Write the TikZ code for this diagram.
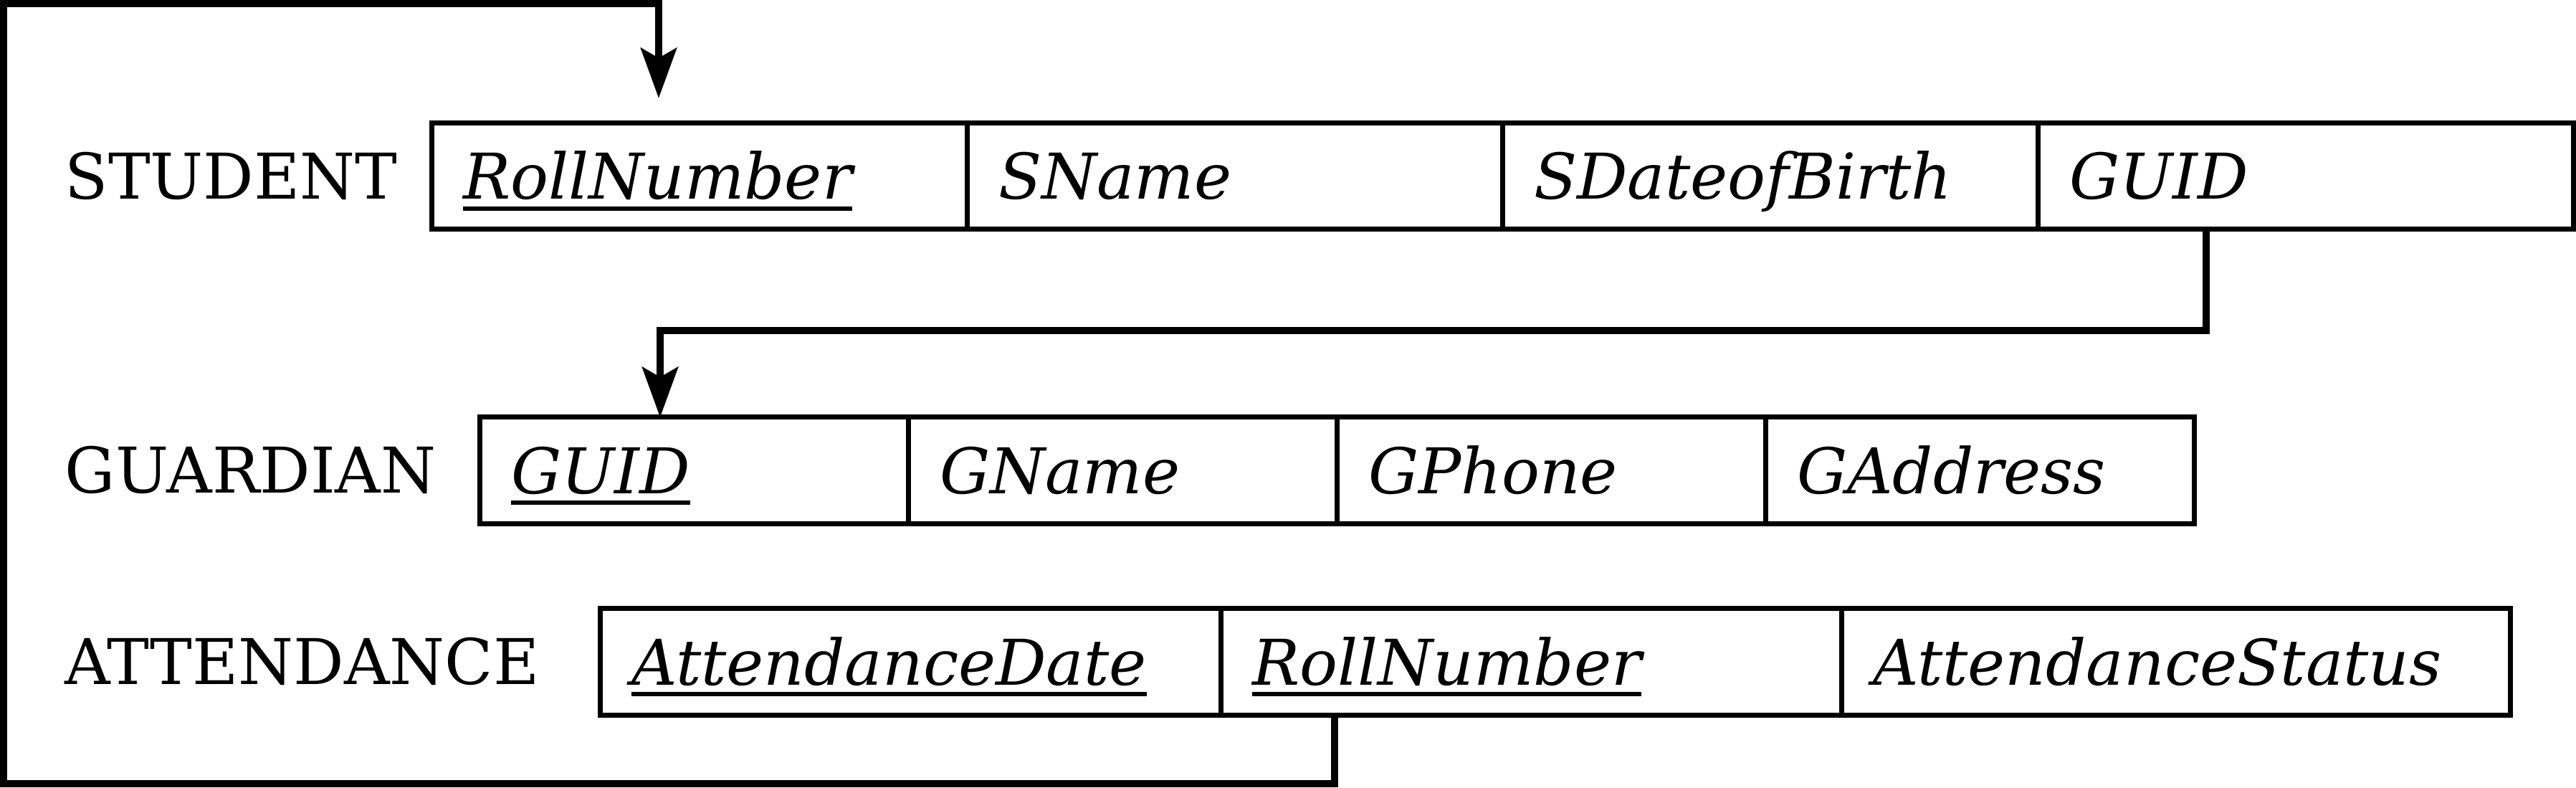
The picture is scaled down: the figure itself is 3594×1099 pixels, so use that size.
\documentclass[tikz,border=0pt]{standalone}
\usepackage{fontspec}
\setmainfont{DejaVu Serif}
\usetikzlibrary{positioning,calc,arrows.meta}

\newcommand{\pkey}[1]{\setbox0\hbox{#1}\rlap{\rule[-4pt]{\wd0}{1.5pt}}\box0}

\begin{document}
\begin{tikzpicture}[x=0.25pt, y=-0.25pt,
    relname/.style={anchor=west, inner sep=0pt, text height=16pt, text depth=0pt, font=\fontsize{22}{26}\selectfont},
    field/.style={draw, line width=1.75pt, outer sep=0pt, minimum height=37.1pt, inner xsep=11pt, inner ysep=0pt,
      text width=#1, align=left, text height=16pt, text depth=0pt, font=\fontsize{22}{26}\selectfont\itshape},
    fk/.style={line width=2.5pt, -{Stealth[length=17.5pt, width=12.5pt, inset=3.5pt]}}]
  \useasboundingbox (0,0) rectangle (3594,1099);

  % STUDENT
  \node[relname] (student) at (90,246) {STUDENT};
  \node[field=164.75pt, anchor=north west] (s1) at (602,171.5) {\pkey{RollNumber}};
  \node[field=164.75pt] (s2) [right=0pt of s1] {SName};
  \node[field=164.75pt] (s3) [right=0pt of s2] {SDateofBirth};
  \node[field=164.75pt] (s4) [right=0pt of s3] {GUID};

  % GUARDIAN
  \node[relname] (guardian) at (90,656) {GUARDIAN};
  \node[field=127.5pt, anchor=north west] (g1) at (669,582) {\pkey{GUID}};
  \node[field=127.5pt] (g2) [right=0pt of g1] {GName};
  \node[field=127.5pt] (g3) [right=0pt of g2] {GPhone};
  \node[field=127.5pt] (g4) [right=0pt of g3] {GAddress};

  % ATTENDANCE
  \node[relname] (attendance) at (90,923) {ATTENDANCE};
  \node[field=194.5pt, anchor=north west] (a1) at (837,849) {\pkey{AttendanceDate}};
  \node[field=194.5pt] (a2) [right=0pt of a1] {\pkey{RollNumber}};
  \node[field=211.25pt] (a3) [right=0pt of a2] {AttendanceStatus};

  % foreign keys
  \coordinate (guidout) at ($(s4.south west)+(235,0)$);
  \coordinate (guidin)  at ($(g1.north west)+(252,0)$);
  \coordinate (rollout) at ($(a2.south west)+(159,0)$);
  \coordinate (rollin)  at ($(s1.north west)+(317,-34.5)$);
  \coordinate (loopbl)  at (5,1093);
  \coordinate (looptl)  at (5,5);

  \draw[fk] (guidout) -- ++(0,141) -| (guidin);
  \draw[fk] (rollout) |- (loopbl) -- (looptl) -| (rollin);
\end{tikzpicture}
\end{document}
